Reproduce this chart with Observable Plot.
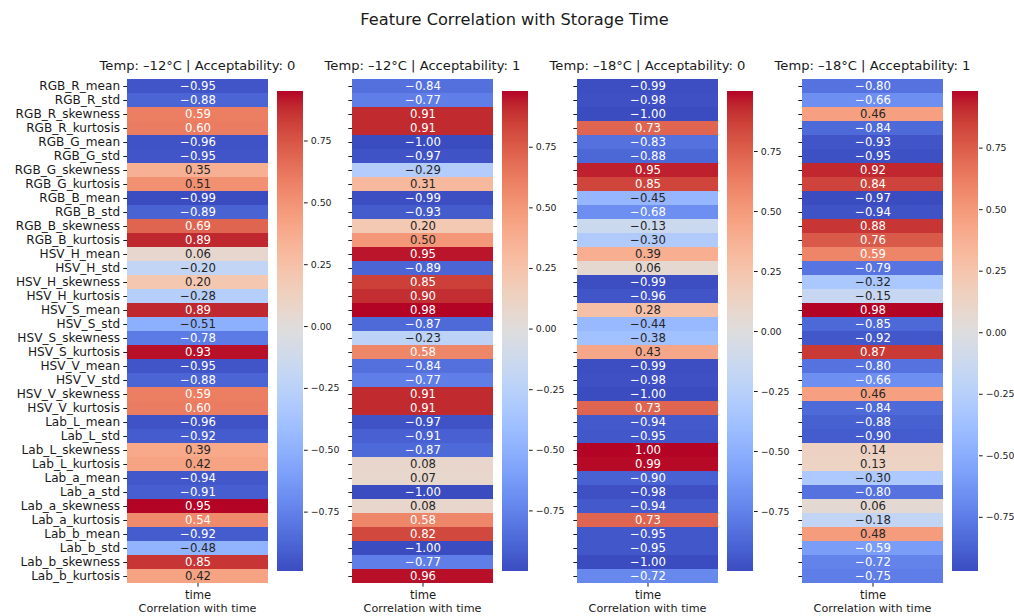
<!DOCTYPE html>
<html><head><meta charset="utf-8">
<script src="https://cdn.jsdelivr.net/npm/d3@7"></script>
<script src="https://cdn.jsdelivr.net/npm/@observablehq/plot@0.6"></script>
<style>
html,body{margin:0;padding:0;background:#fff;}
#fig{position:relative;width:1014px;height:616px;overflow:hidden;font-family:"DejaVu Sans",sans-serif;color:#222;background:#fff;}
.box{position:absolute;}
.box svg{display:block;max-width:none;}
.txt{position:absolute;white-space:nowrap;transform:translate(-50%,-50%);line-height:1;font-family:"DejaVu Sans",sans-serif;color:#1a1a1a;}
</style></head><body><div id="fig"></div>
<script>
// ---------- data ----------
const features = [
  "RGB_R_mean","RGB_R_std","RGB_R_skewness","RGB_R_kurtosis",
  "RGB_G_mean","RGB_G_std","RGB_G_skewness","RGB_G_kurtosis",
  "RGB_B_mean","RGB_B_std","RGB_B_skewness","RGB_B_kurtosis",
  "HSV_H_mean","HSV_H_std","HSV_H_skewness","HSV_H_kurtosis",
  "HSV_S_mean","HSV_S_std","HSV_S_skewness","HSV_S_kurtosis",
  "HSV_V_mean","HSV_V_std","HSV_V_skewness","HSV_V_kurtosis",
  "Lab_L_mean","Lab_L_std","Lab_L_skewness","Lab_L_kurtosis",
  "Lab_a_mean","Lab_a_std","Lab_a_skewness","Lab_a_kurtosis",
  "Lab_b_mean","Lab_b_std","Lab_b_skewness","Lab_b_kurtosis"
];
const panelTitles = [
  "Temp: –12°C | Acceptability: 0",
  "Temp: –12°C | Acceptability: 1",
  "Temp: –18°C | Acceptability: 0",
  "Temp: –18°C | Acceptability: 1"
];
const corrT12A0 = [-0.95,-0.88,0.59,0.60,-0.96,-0.95,0.35,0.51,-0.99,-0.89,0.69,0.89,
  0.06,-0.20,0.20,-0.28,0.89,-0.51,-0.78,0.93,-0.95,-0.88,0.59,0.60,
  -0.96,-0.92,0.39,0.42,-0.94,-0.91,0.95,0.54,-0.92,-0.48,0.85,0.42];
const corrT12A1 = [-0.84,-0.77,0.91,0.91,-1.00,-0.97,-0.29,0.31,-0.99,-0.93,0.20,0.50,
  0.95,-0.89,0.85,0.90,0.98,-0.87,-0.23,0.58,-0.84,-0.77,0.91,0.91,
  -0.97,-0.91,-0.87,0.08,0.07,-1.00,0.08,0.58,0.82,-1.00,-0.77,0.96];
const corrT18A0 = [-0.99,-0.98,-1.00,0.73,-0.83,-0.88,0.95,0.85,-0.45,-0.68,-0.13,-0.30,
  0.39,0.06,-0.99,-0.96,0.28,-0.44,-0.38,0.43,-0.99,-0.98,-1.00,0.73,
  -0.94,-0.95,1.00,0.99,-0.90,-0.98,-0.94,0.73,-0.95,-0.95,-1.00,-0.72];
const corrT18A1 = [-0.80,-0.66,0.46,-0.84,-0.93,-0.95,0.92,0.84,-0.97,-0.94,0.88,0.76,
  0.59,-0.79,-0.32,-0.15,0.98,-0.85,-0.92,0.87,-0.80,-0.66,0.46,-0.84,
  -0.88,-0.90,0.14,0.13,-0.30,-0.80,0.06,-0.18,0.48,-0.59,-0.72,-0.75];
const panelValues = [corrT12A0, corrT12A1, corrT18A0, corrT18A1];
const xCategory = ["time"];
const colorbarTicks = [-0.75,-0.50,-0.25,0.00,0.25,0.50,0.75];
const mainTitle = "Feature Correlation with Storage Time";
const xLabel = "Correlation with time";

// coolwarm colormap (Moreland)
const coolwarm = [
  [59,76,192],[68,90,204],[77,104,215],[87,117,225],[98,130,234],[108,142,241],[119,154,247],[130,165,251],
  [141,176,254],[152,185,255],[163,194,255],[174,201,253],[184,208,249],[194,213,244],[204,217,238],[213,219,230],
  [221,221,221],[229,216,209],[236,211,197],[241,204,185],[245,196,173],[247,187,160],[247,177,148],[247,166,135],
  [244,154,123],[241,141,111],[236,127,99],[229,112,88],[222,96,77],[213,80,66],[203,62,56],[192,40,47],[180,4,38]
].map(([r,g,b]) => d3.rgb(r,g,b).formatHex());
const cwInterp = d3.piecewise(d3.interpolateRgb, coolwarm);

// ---------- layout ----------
const heatLeft = [127, 352, 577, 802];
const heatW = 141, heatTop = 79, heatH = 504;
const cbOffset = 150, cbW = 26, cbTop = 91, cbH = 480;

const fmt = d3.format(".2f");
function colorOpts(vmin, vmax) {
  return {type: "linear", domain: [vmin, vmax], interpolate: cwInterp};
}
function relLum(c) {
  const {r, g, b} = d3.rgb(c);
  const f = v => { v /= 255; return v <= 0.03928 ? v / 12.92 : Math.pow((v + 0.055) / 1.055, 2.4); };
  return 0.2126 * f(r) + 0.7152 * f(g) + 0.0722 * f(b);
}
function textColor(v, vmin, vmax) {
  return relLum(cwInterp((v - vmin) / (vmax - vmin))) > 0.395 ? "#262626" : "#ffffff";
}

const fig = document.getElementById("fig");
function place(node, left, top) {
  const d = document.createElement("div");
  d.className = "box";
  d.style.left = left + "px";
  d.style.top = top + "px";
  d.appendChild(node);
  fig.appendChild(d);
}
function label(text, cx, cy, size) {
  const d = document.createElement("div");
  d.className = "txt";
  d.textContent = text;
  d.style.left = cx + "px";
  d.style.top = cy + "px";
  d.style.fontSize = size + "px";
  fig.appendChild(d);
}

label(mainTitle, 514.5, 20, 16.2);

panelValues.forEach((vals, i) => {
  const [vmin, vmax] = d3.extent(vals);
  const rows = features.map((f, k) => ({feature: f, value: vals[k]}));
  const first = i === 0;
  const ml = first ? heatLeft[0] : 10;
  const mt = 9, mb = 24, mr = 2;
  const heat = Plot.plot({
    width: ml + heatW + mr,
    height: mt + heatH + mb,
    marginLeft: ml, marginRight: mr, marginTop: mt, marginBottom: mb,
    style: {fontFamily: "DejaVu Sans", color: "#1a1a1a", background: "transparent", overflow: "visible"},
    x: {type: "band", domain: xCategory, padding: 0},
    y: {type: "band", domain: features, padding: 0},
    color: colorOpts(vmin, vmax),
    marks: [
      Plot.cell(rows, {x: () => "time", y: "feature", fill: "value", shapeRendering: "crispEdges"}),
      Plot.text(rows, {x: () => "time", y: "feature", text: d => fmt(d.value),
        fill: d => textColor(d.value, vmin, vmax), fontSize: 11.7}),
      Plot.axisX({tickSize: 3.7, tickPadding: 3.2, fontSize: 11.6, label: null}),
      Plot.axisY({tickSize: 3.7, tickPadding: 3.7, fontSize: 12.1, label: null,
        tickFormat: first ? (d => d) : (() => "")})
    ]
  });
  place(heat, heatLeft[i] - ml, heatTop - mt);

  const N = 240;
  const steps = d3.range(N).map(k => ({y1: vmin + (vmax - vmin) * k / N, y2: vmin + (vmax - vmin) * (k + 1) / N}));
  const cml = 2, cmt = 11, cmb = 10, cmr = 45;
  const cb = Plot.plot({
    width: cml + cbW + cmr, height: cmt + cbH + cmb,
    marginLeft: cml, marginRight: cmr, marginTop: cmt, marginBottom: cmb,
    style: {fontFamily: "DejaVu Sans", color: "#1a1a1a", background: "transparent", overflow: "visible"},
    x: {domain: [0, 1], axis: null},
    y: {domain: [vmin, vmax]},
    color: colorOpts(vmin, vmax),
    marks: [
      Plot.rect(steps, {x1: 0, x2: 1, y1: "y1", y2: "y2", fill: d => (d.y1 + d.y2) / 2, shapeRendering: "crispEdges"}),
      Plot.axisY({anchor: "right", ticks: colorbarTicks, tickFormat: fmt, tickSize: 3.7, tickPadding: 3.5, fontSize: 9.4, label: null})
    ]
  });
  place(cb, heatLeft[i] + cbOffset - cml, cbTop - cmt);

  label(panelTitles[i], heatLeft[i] + heatW / 2, 66, 13.1);
  label(xLabel, heatLeft[i] + heatW / 2, 609, 11.2);
});
</script></body></html>
